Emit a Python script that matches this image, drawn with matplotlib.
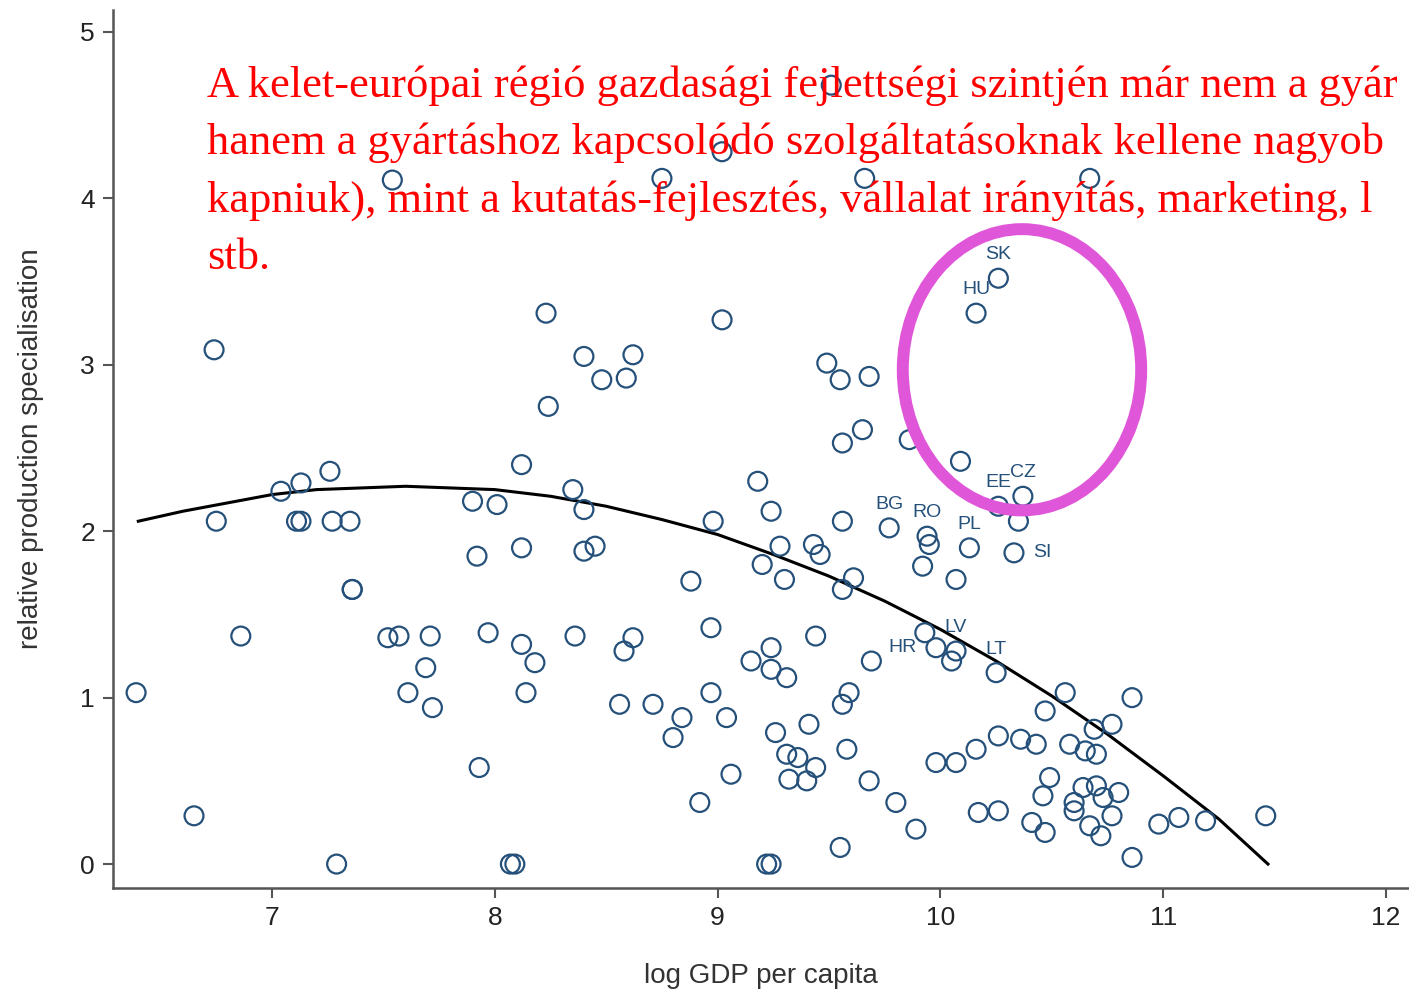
import numpy as np
import matplotlib
matplotlib.use("Agg")
import matplotlib.pyplot as plt
from matplotlib.patches import Ellipse

# scatter: log GDP per capita vs relative production specialisation
gdp = [7.54, 9.02, 8.75, 9.51, 9.66, 10.67, 6.74, 7.26, 7.13, 7.04,
       6.75, 7.11, 7.13, 7.27, 7.35, 7.36, 7.36, 6.39, 6.86, 7.52,
       7.57, 7.71, 7.69, 7.61, 7.72, 6.65, 7.29,
       8.23, 9.02, 8.40, 8.62, 8.48, 8.59, 8.24, 8.12, 9.18, 8.35,
       7.90, 8.01, 8.40, 9.24, 8.98, 7.92, 8.12, 8.40, 8.45, 9.28,
       9.20, 8.88,
       9.49, 9.55, 9.68, 9.65, 9.56, 9.86, 10.09, 10.35, 9.56, 9.95,
       9.43, 9.46, 9.92, 9.30, 9.61, 10.07, 9.56,
       9.93, 10.05, 9.44, 9.24, 9.24, 9.31, 9.69, 9.59, 9.56, 10.56,
       10.47, 10.69, 9.41, 9.26, 10.26, 10.36, 10.43, 10.58, 10.65, 10.70,
       9.58, 9.31, 9.36, 9.44, 9.32, 9.40, 9.68, 9.98, 10.07, 10.16,
       10.49, 10.46, 10.64, 10.70, 10.60, 10.60, 10.73, 10.80, 9.80, 10.17,
       10.26, 9.89, 10.41, 10.47, 10.67, 10.72, 10.77, 9.55, 10.86, 10.77,
       10.98, 11.07, 11.19, 11.46, 10.86,
       7.97, 8.12, 8.18, 8.36, 8.62, 8.58, 8.97, 9.15, 8.14, 8.56,
       8.71, 8.84, 8.80, 8.97, 9.04, 7.93, 9.06, 8.92, 8.07, 8.09,
       9.22, 9.24]
spec = [4.11, 4.28, 4.12, 4.68, 4.12, 4.12, 3.09, 2.36, 2.29, 2.24,
        2.06, 2.06, 2.06, 2.06, 2.06, 1.65, 1.65, 1.03, 1.37, 1.36,
        1.37, 1.37, 1.18, 1.03, 0.94, 0.29, 0.00,
        3.31, 3.27, 3.05, 3.06, 2.91, 2.92, 2.75, 2.40, 2.30, 2.25,
        2.18, 2.16, 2.13, 2.12, 2.06, 1.85, 1.90, 1.88, 1.91, 1.91,
        1.80, 1.70,
        3.01, 2.91, 2.93, 2.61, 2.53, 2.55, 2.42, 2.06, 2.06, 1.92,
        1.92, 1.86, 1.79, 1.71, 1.72, 1.71, 1.65,
        1.39, 1.22, 1.37, 1.30, 1.17, 1.12, 1.22, 1.03, 0.96, 1.03,
        0.92, 0.81, 0.84, 0.79, 0.77, 0.75, 0.72, 0.72, 0.68, 0.66,
        0.69, 0.66, 0.64, 0.58, 0.51, 0.50, 0.50, 0.61, 0.61, 0.69,
        0.52, 0.41, 0.46, 0.47, 0.37, 0.32, 0.40, 0.43, 0.37, 0.31,
        0.32, 0.21, 0.25, 0.19, 0.23, 0.17, 0.29, 0.10, 1.00, 0.84,
        0.24, 0.28, 0.26, 0.29, 0.04,
        1.39, 1.32, 1.21, 1.37, 1.36, 1.28, 1.42, 1.22, 1.03, 0.96,
        0.96, 0.88, 0.76, 1.03, 0.88, 0.58, 0.54, 0.37, 0.00, 0.00,
        0.00, 0.00]

# labelled countries: code, x, y, label position
cee_codes = ["SK", "HU", "CZ", "EE", "BG", "RO", "PL", "SI", "LV", "HR", "LT"]
cee_gdp = [10.26, 10.16, 10.37, 10.26, 9.77, 9.94, 10.13, 10.33, 10.07, 9.98, 10.25]
cee_spec = [3.52, 3.31, 2.21, 2.15, 2.02, 1.97, 1.90, 1.87, 1.28, 1.30, 1.15]
cee_pos = ["top", "top", "top", "top", "top", "top", "top", "right", "top", "left", "top"]

# quadratic fit line
fit_x = [6.40, 6.60, 6.80, 7.00, 7.20, 7.40, 7.60, 7.80, 8.00, 8.25, 8.50,
         8.75, 9.00, 9.25, 9.50, 9.75, 10.00, 10.25, 10.50, 10.75, 11.00,
         11.25, 11.47]
fit_y = [2.06, 2.12, 2.17, 2.22, 2.25, 2.26, 2.27, 2.26, 2.25, 2.21, 2.15,
         2.07, 1.98, 1.86, 1.73, 1.58, 1.41, 1.22, 1.01, 0.78, 0.53,
         0.27, 0.00]

# the note runs past the right edge of the original slide
note_lines = [
    "A kelet-európai régió gazdasági fejlettségi szintjén már nem a gyár",
    "hanem a gyártáshoz kapcsolódó szolgáltatásoknak kellene nagyob",
    "kapniuk), mint a kutatás-fejlesztés, vállalat irányítás, marketing, l",
    "stb.",
]

navy = "#24507a"
plt.rcParams["font.family"] = ["Liberation Sans", "DejaVu Sans"]

fig = plt.figure(figsize=(14.09, 9.94), dpi=100)
ax = fig.add_axes([0.0802, 0.1066, 0.9198, 0.8834])

all_x = gdp + cee_gdp
all_y = spec + cee_spec
ax.scatter(all_x, all_y, s=185, facecolors="none", edgecolors=navy,
           linewidths=1.6, zorder=3)
ax.plot(fit_x, fit_y, color="black", lw=2.2, zorder=2)

offsets = {"top": (0, 17), "right": (14, 0), "left": (-14, 0)}
aligns = {"top": ("center", "center"), "right": ("left", "center"),
          "left": ("right", "center")}
for code, x, y, pos in zip(cee_codes, cee_gdp, cee_spec, cee_pos):
    ha, va = aligns[pos]
    ax.annotate(code, (x, y), xytext=offsets[pos], textcoords="offset points",
                ha=ha, va=va, fontsize=14, color=navy, zorder=4)

ax.add_patch(Ellipse((10.366, 2.97), 1.07, 1.69, fill=False,
                     edgecolor="#e056d9", lw=8.6, zorder=5))

ax.set_xlim(6.2864, 12.103)
ax.set_ylim(-0.144, 5.132)
ax.set_xticks([7, 8, 9, 10, 11, 12])
ax.set_yticks([0, 1, 2, 3, 4, 5])
ax.spines["top"].set_visible(False)
ax.spines["right"].set_visible(False)
for s in ["left", "bottom"]:
    ax.spines[s].set_color("#555555")
    ax.spines[s].set_linewidth(1.8)
ax.tick_params(axis="both", length=7, width=1.5, color="#555555",
               labelsize=19, labelcolor="#222222", pad=6)
ax.set_xlabel("log GDP per capita", fontsize=20, color="#333333", labelpad=24)
ax.set_ylabel("relative production specialisation", fontsize=20,
              color="#333333", labelpad=26)

baselines = [97, 154, 212, 269]
for line, b in zip(note_lines, baselines):
    fig.text(207 / 1409, 1 - b / 994, line, color="#ff0000", fontsize=32,
             family=["Liberation Serif", "DejaVu Serif"], va="baseline",
             ha="left", zorder=6)

fig.savefig("out.png", dpi=100)
